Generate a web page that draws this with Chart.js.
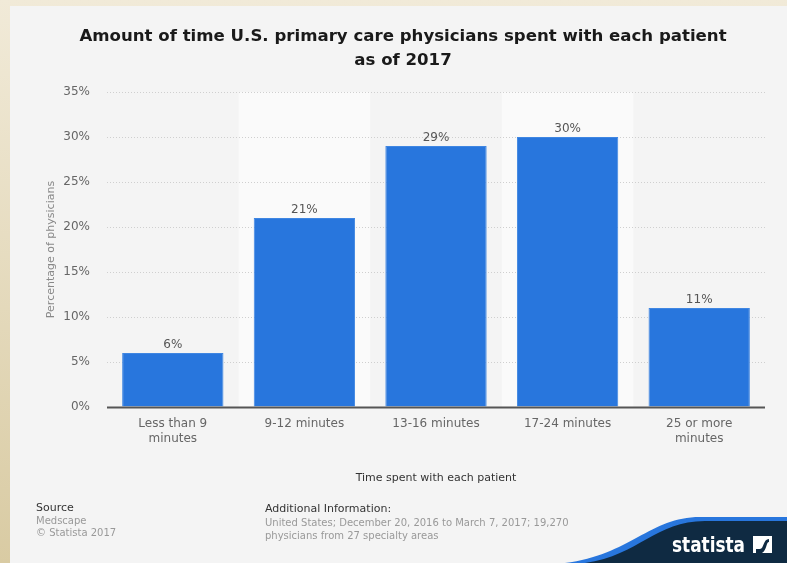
<!DOCTYPE html>
<html lang="en">
<head>
<meta charset="UTF-8">
<title>Time spent with each patient</title>
<style>
  html, body { margin: 0; padding: 0; background: #efe7d2; }
  #wrap { width: 787px; height: 563px; }
</style>
</head>
<body>
<div id="wrap"><canvas id="myChart" width="787" height="563"></canvas></div>
<script src="https://cdn.jsdelivr.net/npm/chart.js@4.4.0/dist/chart.umd.min.js"></script>
<script>
// data
const categories = [['Less than 9', 'minutes'], '9-12 minutes', '13-16 minutes', '17-24 minutes', ['25 or more', 'minutes']];
const shares = [6, 21, 29, 30, 11];
const yTicks = [0, 5, 10, 15, 20, 25, 30, 35];

const FONT = '"DejaVu Sans", sans-serif';

// card, bands, footer and logo
const decor = {
  id: 'decor',
  beforeDraw(chart) {
    const c = chart.ctx, a = chart.chartArea, x = chart.scales.x;
    c.save();
    // beige page edges
    const g = c.createLinearGradient(0, 0, 0, 563);
    g.addColorStop(0, '#f1ead8');
    g.addColorStop(1, '#d9cba3');
    c.fillStyle = g;
    c.fillRect(0, 0, chart.width, chart.height);
    c.fillStyle = '#f4f4f4';
    c.fillRect(10, 6, chart.width - 10, chart.height - 6);
    // alternating bands
    const w = (a.right - a.left) / categories.length;
    c.fillStyle = '#fafafa';
    categories.forEach((_, i) => {
      if (i % 2 === 1) c.fillRect(x.getPixelForValue(i) - w / 2, a.top, w, a.bottom - a.top);
    });
    c.restore();
  },
  afterDraw(chart) {
    const c = chart.ctx, a = chart.chartArea;
    c.save();
    // zero line
    c.strokeStyle = '#555';
    c.lineWidth = 2;
    c.beginPath();
    c.moveTo(a.left, a.bottom + 0.5);
    c.lineTo(a.right, a.bottom + 0.5);
    c.stroke();

    // value labels
    const meta = chart.getDatasetMeta(0);
    c.fillStyle = '#555';
    c.font = '12px ' + FONT;
    c.textAlign = 'center';
    c.textBaseline = 'bottom';
    meta.data.forEach((bar, i) => c.fillText(shares[i] + '%', bar.x, bar.y - 2));

    // title
    c.fillStyle = '#1a1a1a';
    c.font = 'bold 16.6px ' + FONT;
    c.textBaseline = 'middle';
    c.fillText('Amount of time U.S. primary care physicians spent with each patient', 403, 37);
    c.fillText('as of 2017', 403, 61);

    // footer
    c.textAlign = 'left';
    c.fillStyle = '#333';
    c.font = '11px ' + FONT;
    c.fillText('Source', 36, 508);
    c.fillText('Additional Information:', 265, 509);
    c.fillStyle = '#999';
    c.font = '10px ' + FONT;
    c.fillText('Medscape', 36, 521);
    c.fillText('\u00a9 Statista 2017', 36, 533);
    c.fillText('United States; December 20, 2016 to March 7, 2017; 19,270', 265, 523);
    c.fillText('physicians from 27 specialty areas', 265, 536);

    // statista logo
    const W = chart.width, H = chart.height;
    c.beginPath();
    c.moveTo(565, H);
    c.bezierCurveTo(630, H - 8, 650, H - 46, 700, H - 46);
    c.lineTo(W, H - 46);
    c.lineTo(W, H);
    c.closePath();
    c.fillStyle = '#2876dd';
    c.fill();
    c.beginPath();
    c.moveTo(585, H);
    c.bezierCurveTo(640, H - 8, 655, H - 42, 705, H - 42);
    c.lineTo(W, H - 42);
    c.lineTo(W, H);
    c.closePath();
    c.fillStyle = '#0f2a42';
    c.fill();
    c.fillStyle = '#fff';
    c.font = 'bold 21px "DejaVu Sans Condensed", ' + FONT;
    c.textBaseline = 'alphabetic';
    c.fillText('statista', 672, 552, 73);
    // logo mark
    c.fillRect(753, 536, 19, 17);
    c.fillStyle = '#0f2a42';
    c.beginPath();
    c.moveTo(756, 549);
    c.lineTo(760, 549);
    c.bezierCurveTo(764, 549, 763, 539, 769, 539);
    c.lineTo(769, 542);
    c.bezierCurveTo(766, 542, 767, 550, 762, 553);
    c.lineTo(756, 553);
    c.closePath();
    c.fill();
    c.restore();
  }
};

const ctx = document.getElementById('myChart').getContext('2d');
const myChart = new Chart(ctx, {
  type: 'bar',
  data: {
    labels: categories,
    datasets: [{
      data: shares,
      backgroundColor: '#2876dd',
      borderColor: '#3f86e2',
      borderWidth: 1,
      categoryPercentage: 1,
      barPercentage: 0.77
    }]
  },
  options: {
    responsive: false,
    animation: false,
    layout: { padding: { top: 92, right: 22, left: 45, bottom: 78 } },
    scales: {
      x: {
        grid: { display: false, drawTicks: false },
        border: { display: false },
        ticks: { color: '#666', font: { family: FONT, size: 12 }, padding: 10, maxRotation: 0 },
        title: { display: true, text: 'Time spent with each patient', color: '#333', font: { family: FONT, size: 11 }, padding: 0 },
        afterFit(s) { s.height = 78; }
      },
      y: {
        min: 0,
        max: 35,
        afterBuildTicks(s) { s.ticks = yTicks.map(v => ({ value: v })); },
        grid: { color: '#cfcfcf', drawTicks: false, lineWidth: 1 },
        border: { display: false, dash: [1, 2] },
        ticks: { color: '#666', font: { family: FONT, size: 12 }, padding: 17, callback: v => v + '%' },
        title: { display: true, text: 'Percentage of physicians', color: '#888', font: { family: FONT, size: 11 }, padding: 0 },
        afterFit(s) { s.width = 62; }
      }
    },
    plugins: {
      legend: { display: false },
      tooltip: { enabled: false }
    }
  },
  plugins: [decor]
});
</script>
</body>
</html>
